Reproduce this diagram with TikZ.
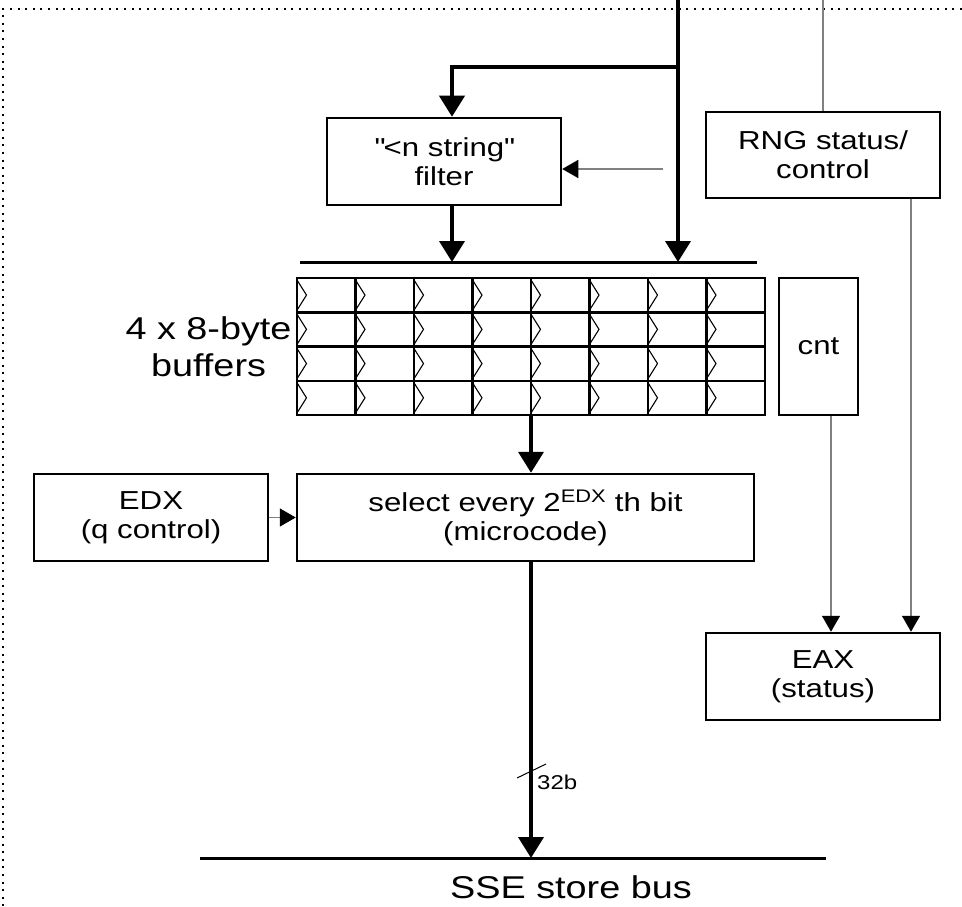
\documentclass[tikz,border=0pt]{standalone}
\usepackage{fontspec}
\setmainfont{Liberation Sans}[FakeStretch=1.2]
\usetikzlibrary{arrows.meta, positioning, calc}

\begin{document}
\begin{tikzpicture}[
    x=1pt, y=-1pt,
    blk/.style={rectangle, draw, line width=2.5pt, align=center, inner sep=0pt,
                font=\fontsize{26}{29}\selectfont},
    lbl/.style={align=center, inner sep=0pt, font=\fontsize{31.5}{37}\selectfont},
    thickarr/.style={-{Triangle[length=21pt, width=25pt]}, line width=4pt},
    thinarr/.style={-{Triangle[length=16pt, width=18pt, color=black]}, line width=1.5pt, draw=black!50},
    wire/.style={line width=1.5pt, draw=black!50},
    busline/.style={line width=3pt},
    cellline/.style={line width=2.5pt},
    clk/.style={line width=1.1pt},
    border/.style={line width=2pt, dash pattern=on 2pt off 5.6pt}
]
\useasboundingbox (0,0) rectangle (962,907);

% outer frame (cut off)
\draw[border] (962,9) -- (3,9) -- (3,907);

% blocks
\node[blk, minimum width=234, minimum height=87] (filter) at (444,161.5) {\textquotedbl<n string\textquotedbl\\filter};
\node[blk, minimum width=234, minimum height=86] (rng) at (823,155) {RNG status/\\control};
\node[draw, line width=2.5pt, minimum width=468, minimum height=137, inner sep=0pt] (buf) at (531,346.5) {};
\node[blk, minimum width=79, minimum height=137] (cnt) at (818.5,346.5) {cnt};
\node[blk, minimum width=234, minimum height=87] (edx) at (151,517.5) {EDX\\(q control)};
\node[blk, minimum width=457, minimum height=87] (sel) at (525.5,517.5) {select every 2\textsuperscript{EDX} th bit\\(microcode)};
\node[blk, minimum width=234, minimum height=87] (eax) at (823,676.5) {EAX\\(status)};
\node[lbl, left=4pt of buf] (buflbl) {4 x 8-byte\\buffers};

% buffer cells with clock marks
\foreach \i in {1,...,7}
    \draw[cellline] (297+\i*58.5,278) -- ++(0,137);
\foreach \j in {1,2,3}
    \draw[cellline] (297,278+\j*34.25) -- ++(468,0);
\foreach \i in {0,...,7}
    \foreach \j in {0,...,3}
        \draw[clk] (297+\i*58.5,280+\j*34.25) -- ++(9.5,15.1) -- ++(-9.5,15.1);

% busses
\coordinate (in) at (678,0);
\coordinate (fork) at (678,67);
\coordinate (rngin) at (823,0);
\coordinate (ctlin) at (663,169);
\coordinate (wl) at (300,262);
\coordinate (wr) at (757,262);
\coordinate (sl) at (200,858);
\coordinate (sr) at (826,858);
\draw[busline] (wl) -- (wr);
\draw[busline] (sl) -- (sr);
\node[lbl, anchor=base] (buslbl) at (571,898) {SSE store bus};

% connectors
\draw[thickarr] (in) -- (in |- wl);
\draw[thickarr] (fork) -| ([xshift=8]filter.north);
\draw[thinarr] (ctlin) -- (ctlin -| filter.east);
\draw[thickarr] ([xshift=8]filter.south) -- ([xshift=8]filter.south |- wl);
\draw[wire] (rngin) -- (rng.north);
\draw[thinarr] ([xshift=88]rng.south) -- ([xshift=88]eax.north);
\draw[thinarr] ([xshift=12.5]cnt.south) -- ([xshift=12.5]cnt.south |- eax.north);
\draw[thickarr] (buf.south) -- (buf.south |- sel.north);
\draw[thinarr] (edx) -- (sel);
\draw[thickarr] (buf.south |- sel.south) -- (buf.south |- sl);

% bus width mark
\draw[line width=1pt] (517,778) -- (546,764);
\node[anchor=base west, inner sep=0pt, font=\fontsize{20}{24}\selectfont] (w32) at (537,789) {32b};
\end{tikzpicture}
\end{document}
